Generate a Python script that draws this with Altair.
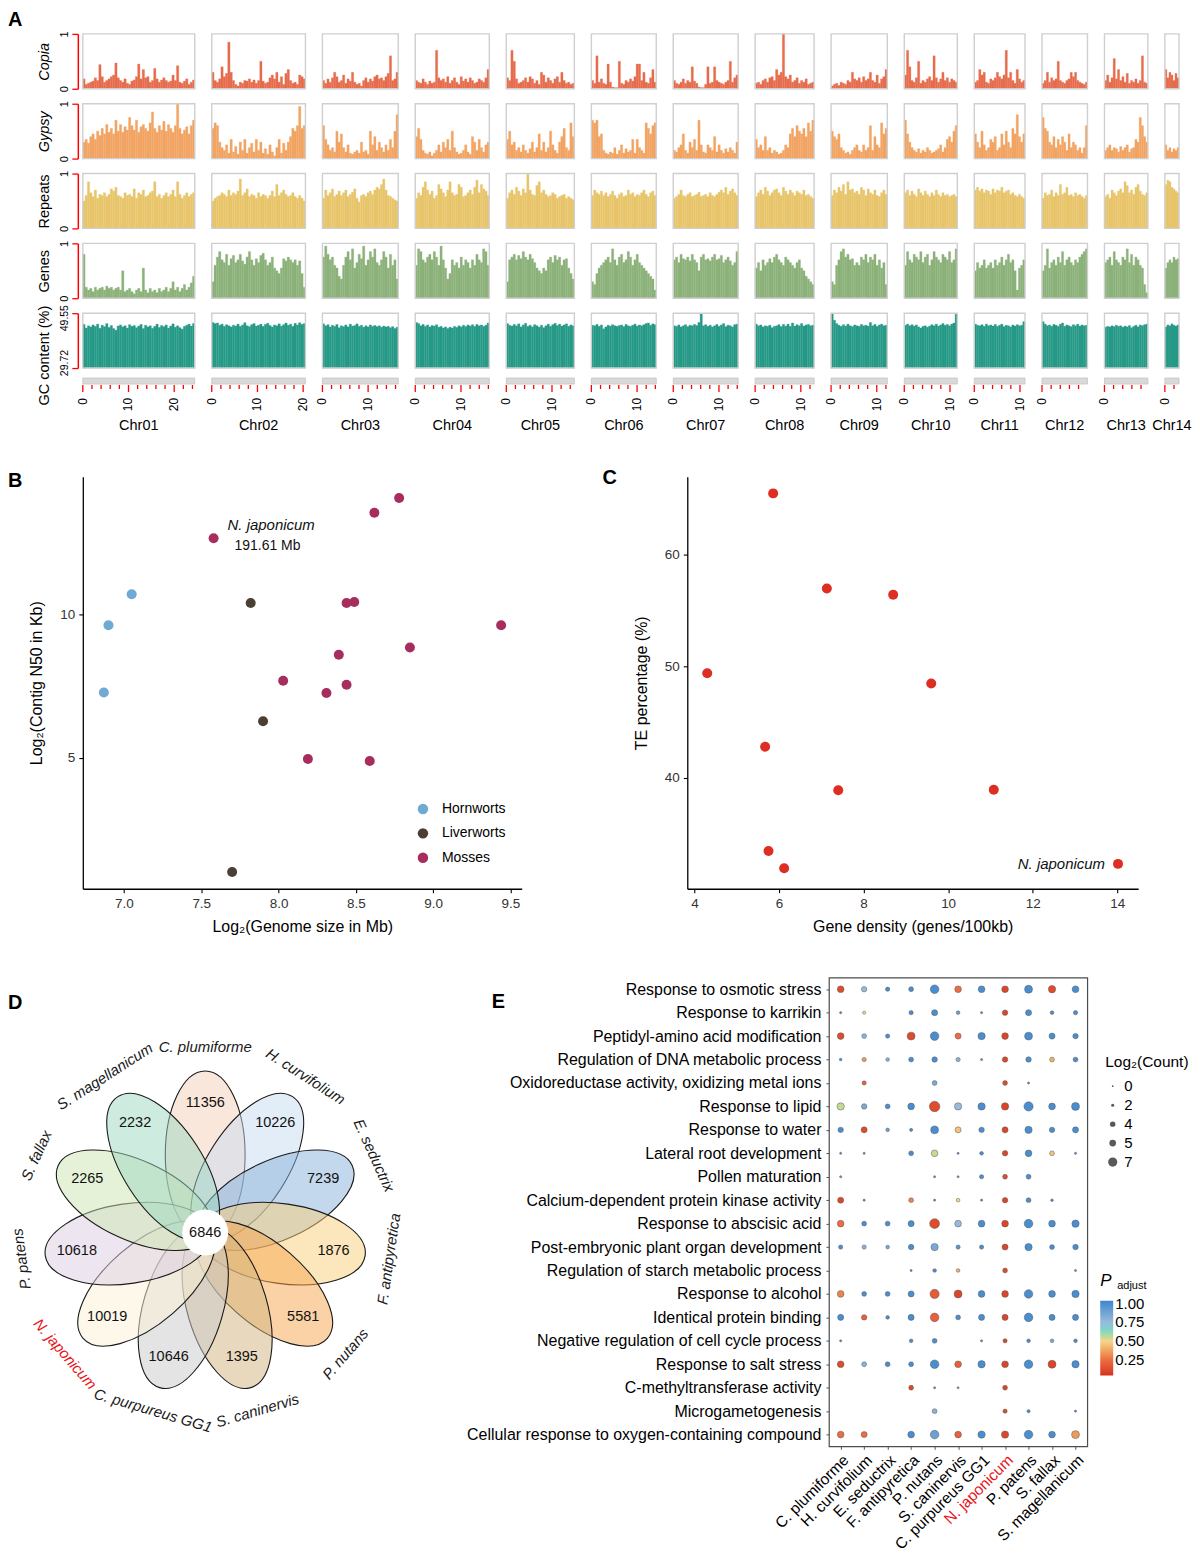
import math
import altair as alt
import pandas as pd

FONT = "Liberation Sans"

# ======================= Panel A data =======================
CHROMS = ["Chr01", "Chr02", "Chr03", "Chr04", "Chr05", "Chr06", "Chr07",
          "Chr08", "Chr09", "Chr10", "Chr11", "Chr12", "Chr13", "Chr14"]
CHR_LEN = [24.5, 20.5, 16.6, 16.2, 14.9, 14.2, 14.2, 12.9, 12.3, 11.6, 11.1, 9.95, 9.5, 3.1]  # Mb

# track values per window, % of panel height (0-100)
COPIA = [
    [18,8,10,12,14,20,15,44,22,12,15,18,22,25,47,20,15,12,18,10,8,14,16,22,45,18,35,20,22,12,15,37,18,12,16,20,15,12,14,25,15,42,12,10,14,18,8,12,16],
    [30,15,12,18,40,22,28,85,30,15,8,5,12,10,15,14,18,12,16,10,15,50,14,10,12,20,25,18,30,12,22,8,28,35,15,10,12,8,25,22,18],
    [15,10,18,12,20,30,22,12,15,25,10,18,14,30,12,8,10,5,15,20,12,18,14,22,25,18,20,15,22,28,60,15,18,30],
    [15,12,10,18,12,8,14,10,12,70,20,15,18,12,22,10,15,20,12,8,22,14,18,12,20,15,10,12,18,15,12,20,35],
    [20,15,70,50,18,10,12,15,20,12,22,18,10,15,8,30,25,12,20,15,10,18,22,12,30,15,10,12,8,10],
    [15,10,60,12,18,10,8,45,12,3,2,2,50,10,8,15,12,18,14,22,45,45,15,30,12,10,20,35,12],
    [15,10,8,12,18,10,15,12,40,14,10,3,2,2,8,40,10,12,40,15,12,10,8,12,15,50,12,20,25],
    [10,12,8,15,18,12,20,22,15,35,25,30,100,22,18,25,12,15,20,10,15,12,18,8,10,12],
    [5,8,10,6,12,10,8,15,12,30,18,15,20,12,22,15,18,30,15,12,25,10,18,22,35],
    [25,70,40,15,12,20,50,10,15,12,18,22,15,60,20,12,18,30,15,20,12,18,15,12],
    [12,15,35,25,30,12,10,18,15,20,30,22,18,25,70,20,30,15,10,35,18,12,15],
    [10,15,30,12,20,15,18,50,15,12,10,15,18,30,22,30,15,12,10,8,12],
    [15,25,12,20,55,18,35,15,22,12,28,10,15,12,18,10,15,60,12,10],
    [35,20,30,25,15,28,20],
]
GYPSY = [
    [30,35,28,40,45,35,50,42,55,45,62,48,55,45,70,50,62,48,58,52,75,60,52,70,48,58,62,55,50,65,85,55,48,60,52,68,50,62,55,48,60,100,55,45,52,58,45,60,70],
    [55,65,60,30,20,15,25,10,35,12,22,8,30,15,35,10,20,28,12,35,15,30,10,18,8,25,12,5,20,35,10,28,15,30,40,55,50,60,95,55,60],
    [60,35,25,15,20,12,50,30,45,20,12,25,10,8,12,15,10,30,12,15,8,50,25,40,15,30,20,12,25,15,35,20,50,80],
    [40,55,35,15,10,8,12,5,10,15,25,12,30,20,35,15,50,20,12,8,10,15,25,12,8,40,30,15,35,20,12,25,30],
    [35,50,25,30,15,20,12,25,15,10,18,30,12,20,45,15,30,12,20,50,25,15,10,30,40,55,20,15,65,40],
    [70,65,70,40,45,15,10,8,12,10,20,8,15,25,10,18,12,15,35,10,35,20,15,10,65,55,45,60,65],
    [15,12,20,25,45,15,10,30,20,35,15,70,25,12,10,25,20,15,40,12,25,15,10,18,12,20,15,10,30],
    [35,20,25,15,40,15,20,10,15,12,8,10,15,25,20,45,55,40,60,50,45,55,40,65,50,70],
    [50,40,35,45,20,15,10,12,8,15,20,25,15,12,25,15,20,60,15,40,25,20,65,45,55],
    [70,45,30,20,15,12,18,10,15,12,20,15,10,12,15,18,25,12,20,35,40,30,50,60],
    [45,30,20,50,25,15,20,35,30,40,15,20,45,25,50,30,20,55,45,80,40,30,45],
    [75,55,50,30,25,40,20,35,25,40,30,15,45,20,30,25,15,20,10,20,60],
    [15,20,25,15,20,18,12,22,15,20,25,12,18,20,35,30,75,60,40,30],
    [25,15,20,12,18,15,20],
]
REPEATS = [
    [50,60,85,65,58,70,55,62,60,65,58,62,72,68,75,60,58,55,65,60,62,58,72,55,65,62,70,58,60,65,68,85,58,62,55,60,65,58,62,70,58,85,62,55,60,65,58,62,65],
    [50,55,58,60,65,62,58,70,60,65,62,68,90,60,65,72,58,62,60,55,65,58,62,60,55,60,68,58,80,60,65,70,62,58,60,65,58,55,60,55,50],
    [55,70,60,65,72,58,62,68,60,65,70,58,62,66,72,55,48,60,62,58,65,68,62,70,75,72,80,90,70,60,58,55,52,50],
    [55,65,60,75,85,70,62,68,55,60,80,72,65,58,70,85,65,60,62,80,75,58,60,65,70,62,75,88,65,80,72,68,60],
    [55,65,70,62,75,68,60,72,65,100,70,62,60,78,85,65,70,62,58,60,65,62,55,58,60,62,55,58,55,52],
    [60,70,65,62,68,60,65,58,62,68,60,55,62,65,58,60,70,62,65,58,62,60,65,70,62,58,65,68,60],
    [55,58,62,70,60,58,62,65,58,60,62,66,58,60,62,58,65,60,58,62,66,70,65,75,62,68,72,65,60],
    [58,65,70,62,75,68,60,65,70,72,65,60,75,68,62,70,65,60,68,65,62,70,60,62,58,55],
    [60,70,65,75,68,80,62,85,70,72,65,68,62,75,70,60,72,65,62,70,60,58,65,70,62],
    [65,70,60,68,62,58,72,65,60,68,62,58,65,60,70,62,58,65,60,62,58,60,62,58],
    [70,75,68,72,65,70,68,62,72,65,70,68,75,65,68,70,62,65,60,58,62,58,55],
    [55,65,60,62,70,58,65,60,80,62,65,75,60,62,58,65,60,62,58,55,60],
    [58,62,55,70,65,60,68,72,65,85,78,65,70,62,75,80,68,62,60,65],
    [80,88,85,75,72,68,65],
]
GENES = [
    [80,20,15,18,12,20,15,18,20,15,22,18,20,15,18,20,15,50,12,15,18,12,8,15,18,12,55,15,10,18,12,15,10,18,12,15,20,12,18,30,15,20,12,18,25,15,20,28,40],
    [30,60,75,85,70,65,80,60,72,78,65,70,80,68,62,75,85,70,60,72,65,78,82,70,60,65,75,55,50,45,55,72,68,75,70,65,70,60,68,45,20],
    [75,95,80,70,75,60,55,40,35,60,75,85,70,90,55,65,80,72,95,60,70,85,75,90,65,60,70,85,75,55,80,60,70,35],
    [60,90,85,70,65,75,80,70,85,75,60,95,70,55,35,45,70,60,65,55,75,60,70,65,55,70,60,80,70,65,90,85,60],
    [30,70,75,80,70,78,72,85,75,70,80,72,65,55,50,45,55,50,70,75,65,78,70,75,60,70,72,55,45,35],
    [30,25,45,55,60,65,70,75,65,90,70,60,75,80,65,70,85,75,60,70,80,65,60,55,50,45,40,35,15],
    [70,75,65,80,72,70,75,68,80,70,65,50,75,80,70,72,68,75,80,70,72,78,65,70,75,68,60,65,85],
    [55,65,50,70,60,65,72,65,75,80,70,65,60,75,70,65,60,55,65,70,55,50,40,35,30,25],
    [30,25,60,70,85,90,75,80,70,72,60,65,60,75,70,80,65,75,70,80,60,70,55,65,25],
    [60,85,70,65,80,75,70,85,65,75,80,60,70,85,75,70,65,80,75,70,85,65,70,90],
    [50,65,55,60,70,55,60,65,55,70,60,65,75,60,70,80,65,70,50,15,55,60,70],
    [50,60,90,55,65,70,60,75,65,85,60,70,75,65,60,70,65,75,80,85,90],
    [65,70,75,60,85,70,65,60,75,70,90,65,80,60,75,70,60,55,25,10],
    [55,65,70,65,75,70,72],
]
GC_CONTENT = [
    [45.5,44.2,45.0,44.6,45.3,44.8,45.6,44.1,45.2,44.7,45.8,44.4,45.1,44.0,43.4,44.9,45.3,44.6,45.0,44.2,45.4,44.8,45.1,44.3,44.9,45.5,44.0,45.2,44.6,45.0,44.1,44.8,45.6,44.4,45.1,44.7,45.3,44.2,44.9,45.7,44.5,45.0,44.3,43.8,44.8,45.2,45.6,44.9,45.8],
    [46.2,45.8,46.0,45.2,45.6,44.8,45.4,45.0,44.6,45.2,44.9,45.6,44.8,45.3,46.1,45.0,44.7,45.4,45.8,44.9,45.2,45.6,44.8,45.5,45.9,45.1,44.6,45.3,45.0,45.7,44.9,45.4,46.0,45.2,45.6,44.8,45.9,45.3,46.1,45.5,45.8],
    [45.7,45.0,45.4,44.6,45.2,44.8,45.5,44.3,45.0,44.7,45.3,44.6,45.6,44.9,45.1,45.7,44.8,45.2,44.5,45.0,44.6,45.3,44.8,45.1,44.7,45.0,44.5,44.9,44.6,44.8,44.3,44.7,44.0,44.5],
    [46.2,45.8,45.0,45.5,44.8,45.3,44.6,45.1,44.9,45.4,44.5,44.8,44.2,44.6,44.0,44.5,44.2,44.8,44.4,45.0,44.6,45.2,44.7,45.3,44.9,45.4,44.8,45.5,45.0,45.3,44.8,45.2,46.0],
    [45.8,45.2,44.9,45.5,45.0,45.7,44.6,45.3,45.9,44.8,45.2,44.6,45.4,45.0,44.5,45.2,44.3,45.0,45.6,44.8,45.4,45.9,45.1,45.6,44.9,45.3,45.7,44.8,45.3,45.0],
    [45.2,45.0,45.5,44.8,45.3,43.9,44.6,45.2,44.9,45.4,45.0,44.8,45.1,45.3,44.7,45.5,45.0,44.8,45.2,45.6,44.9,45.3,45.0,45.4,45.8,46.0,45.2,45.7,45.4],
    [45.0,44.8,45.3,44.6,45.0,45.4,44.7,45.2,45.0,45.5,45.1,46.2,49.3,45.0,45.4,44.8,45.2,44.6,45.0,45.5,44.8,45.3,45.8,44.7,45.2,45.0,44.6,45.4,45.6],
    [45.6,45.0,45.3,44.6,45.0,44.8,45.2,44.3,44.8,45.0,45.4,44.7,45.5,44.9,45.6,44.8,46.0,44.9,45.4,45.0,45.8,44.9,45.3,45.5,45.0,45.2],
    [49.5,47.0,45.8,45.2,44.8,45.4,44.9,45.6,45.0,44.7,45.3,45.0,44.8,45.5,45.0,45.2,44.9,46.2,45.0,45.5,44.8,45.3,45.6,45.0,45.2],
    [45.2,45.6,45.0,45.4,44.9,45.3,44.6,44.2,44.8,45.0,44.5,44.9,45.4,45.0,45.6,44.9,45.3,45.8,45.2,45.5,45.0,45.6,46.0,49.2],
    [45.6,45.2,45.0,45.4,44.8,45.6,45.0,45.3,44.9,45.5,44.8,45.2,45.6,44.7,45.2,45.0,44.6,45.3,44.9,45.4,45.0,45.2,46.5],
    [46.5,45.6,45.0,45.3,44.8,45.5,45.2,44.8,45.6,46.0,44.8,45.3,45.0,44.7,45.4,45.0,45.6,44.9,45.3,45.0,45.2],
    [44.5,44.8,44.6,45.0,44.7,45.2,44.8,45.0,44.5,44.9,44.6,45.1,44.3,44.8,45.2,44.6,45.3,45.0,45.4,45.6],
    [44.6,45.3,45.0,45.7,45.2,44.9,45.3],
]
GC_RANGE = [29.72, 49.55]

# ======================= Panel B data =======================
B_GROUPS = ["Hornworts", "Liverworts", "Mosses"]
B_COLORS = ["#70AAD4", "#4B3E32", "#A82D5F"]
B_GROUP = ["Hornworts"] * 3 + ["Liverworts"] * 3 + ["Mosses"] * 13
B_LOG2_SIZE = [7.05, 6.90, 6.87, 7.82, 7.90, 7.70, 7.58, 8.78, 8.62, 8.44, 8.49, 9.44, 8.85, 8.39, 8.03, 8.44, 8.31, 8.19, 8.59]
B_LOG2_N50 = [10.71, 9.63, 7.28, 10.41, 6.27, 1.00, 12.67, 14.08, 13.56, 10.41, 10.44, 9.63, 8.85, 8.60, 7.69, 7.55, 7.26, 4.95, 4.88]
B_LABEL = [""] * 6 + ["N. japonicum"] + [""] * 12
B_NJ_SIZE = "191.61 Mb"

# ======================= Panel C data =======================
C_GENE_DENSITY = [5.86, 7.13, 8.70, 4.30, 9.60, 5.67, 7.40, 11.08, 5.75, 6.12, 14.02]
C_TE_PCT = [65.52, 56.99, 56.42, 49.37, 48.45, 42.78, 38.87, 38.93, 33.43, 31.88, 32.27]
C_LABEL = [""] * 10 + ["N. japonicum"]

# ======================= Panel D data =======================
D_SPECIES = ["C. plumiforme", "H. curvifolium", "E. seductrix", "F. antipyretica", "P. nutans",
             "S. caninervis", "C. purpureus GG1", "N. japonicum", "P. patens", "S. fallax", "S. magellanicum"]
D_UNIQUE = [11356, 10226, 7239, 1876, 5581, 1395, 10646, 10019, 10618, 2265, 2232]
D_CORE = 6846
D_COLORS = ["#F5CFB9", "#C7DBEF", "#87B1D9", "#F9CD79", "#F5A54D", "#D1B37D",
            "#C9C9C9", "#FBF1D5", "#DBCDE1", "#CDE5B1", "#9BD7BF"]

# ======================= Panel E data =======================
E_TERMS = ["Response to osmotic stress", "Response to karrikin", "Peptidyl-amino acid modification",
           "Regulation of DNA metabolic process", "Oxidoreductase activity, oxidizing metal ions",
           "Response to lipid", "Response to water", "Lateral root development", "Pollen maturation",
           "Calcium-dependent protein kinase activity", "Response to abscisic acid",
           "Post-embryonic plant organ development", "Regulation of starch metabolic process",
           "Response to alcohol", "Identical protein binding", "Negative regulation of cell cycle process",
           "Response to salt stress", "C-methyltransferase activity", "Microgametogenesis",
           "Cellular response to oxygen-containing compound"]
E_SPECIES = ["C. plumiforme", "H. curvifolium", "E. seductrix", "F. antipyretica", "P. nutans",
             "S. caninervis", "C. purpureus GG1", "N. japonicum", "P. patens", "S. fallax", "S. magellanicum"]
N = None
E_LOG2COUNT = [
    [5, 4, 3, 3.5, 6.5, 5, 5, 5, 6, 5.5, 5],
    [1, 2, N, 3, 4.5, 2.5, 1, 4, 4.5, 2.5, 3],
    [5, 3.5, 3, 6, 6.5, 4.5, 5.5, 5, 6, 4.5, 4],
    [1.5, 3, 2.5, 3.5, 4, 3, 1, 4, 4, 3.5, 3.5],
    [N, 3, N, N, 3.5, N, N, 3.5, 1, N, N],
    [5.5, 4, 3.5, 5, 8, 5.5, 5.5, 5.5, 7, 5, 6],
    [4, 4.5, 2.5, 2, 6, 4.5, 4, 4.5, 5.5, 4, 4.5],
    [1, 1, N, 3.5, 5, 1, 2.5, 4, 5, 3.5, 1],
    [1, N, N, N, 1, 1, 3, 3.5, 3.5, N, N],
    [4.5, 1, N, 3.5, 1, 2.5, 1, 4, 3.5, 1.5, N],
    [5, 3.5, 3.5, 4.5, 7.5, 5, 5, 5, 6.5, 5, 5.5],
    [3, 3, 2.5, 4, 5.5, 3, 3, 4.5, 5.5, 3.5, 4],
    [N, N, N, 1, 2.5, 2.5, N, 3.5, N, N, 1],
    [5, 3.5, 3.5, 4.5, 7, 6, 5, 5, 6.5, 5, 5.5],
    [4.5, 4, 2.5, 4.5, 6.5, 3.5, 4.5, 4.5, 6.5, 4.5, 4.5],
    [1, N, N, 2.5, 3.5, N, 1, 3, 2.5, 2.5, 2.5],
    [5, 3.5, 3.5, 3.5, 6.5, 5, 5.5, 5, 6.5, 6, 5.5],
    [N, N, N, 3.5, 1, 1, N, 3.5, N, N, N],
    [N, N, N, N, 3.5, N, N, 3, 2, N, 1],
    [5, 4.5, N, 5, 6.5, 5, 5.5, 5.5, 6.5, 5, 6],
]
E_PADJ = [
    [0.12, 0.75, 1.0, 1.0, 1.0, 0.25, 1.0, 0.1, 1.0, 0.12, 1.0],
    [1.0, 0.5, N, 1.0, 1.0, 0.9, 1.0, 0.1, 1.0, 1.0, 1.0],
    [0.12, 0.8, 1.0, 0.12, 1.0, 0.25, 1.0, 0.1, 1.0, 1.0, 1.0],
    [1.0, 0.35, 0.8, 1.0, 1.0, 0.8, 1.0, 0.1, 1.0, 0.4, 1.0],
    [N, 0.2, N, N, 0.85, N, N, 0.12, 1.0, N, N],
    [0.55, 0.85, 1.0, 1.0, 0.12, 0.75, 1.0, 0.1, 1.0, 1.0, 1.0],
    [1.0, 0.12, 0.9, 1.0, 1.0, 0.45, 1.0, 0.1, 1.0, 1.0, 1.0],
    [1.0, 1.0, N, 1.0, 0.55, 1.0, 1.0, 0.1, 1.0, 0.45, 1.0],
    [1.0, N, N, N, 1.0, 0.95, 1.0, 0.12, 1.0, N, N],
    [0.1, 1.0, N, 0.3, 1.0, 0.5, 1.0, 0.1, 1.0, 1.0, N],
    [0.25, 1.0, 1.0, 1.0, 0.12, 0.75, 1.0, 0.1, 1.0, 1.0, 1.0],
    [1.0, 0.8, 0.85, 1.0, 0.85, 0.95, 1.0, 0.1, 1.0, 1.0, 1.0],
    [N, N, N, 1.0, 1.0, 0.4, N, 0.12, N, N, 1.0],
    [0.3, 1.0, 1.0, 1.0, 0.18, 0.1, 1.0, 0.1, 1.0, 1.0, 1.0],
    [1.0, 0.2, 1.0, 1.0, 0.2, 1.0, 1.0, 0.1, 1.0, 1.0, 1.0],
    [1.0, N, N, 1.0, 1.0, N, 1.0, 0.1, 1.0, 0.85, 1.0],
    [0.12, 0.8, 1.0, 1.0, 1.0, 0.2, 1.0, 0.1, 1.0, 0.1, 1.0],
    [N, N, N, 0.1, 1.0, 0.9, N, 0.1, N, N, N],
    [N, N, N, N, 0.8, N, N, 0.12, 1.0, N, 1.0],
    [0.25, 0.25, N, 1.0, 0.9, 0.2, 1.0, 0.1, 1.0, 1.0, 0.35],
]

# ======================= helpers =======================
def letter(txt, x, y):
    return alt.Chart(pd.DataFrame({"t": [txt]})).mark_text(
        align="left", baseline="top", fontSize=20, fontWeight="bold", color="black"
    ).encode(text="t:N", x=alt.value(x), y=alt.value(y))


def indep(ch):
    return ch.resolve_scale(color="independent", size="independent").resolve_legend(
        color="independent", size="independent")

# ======================= Panel A =======================
GAP_MB = 3.72
W_A = 1099
H_TRACK = 55

offsets = []
acc = 0.0
for L in CHR_LEN:
    offsets.append(acc)
    acc += L + GAP_MB
TOTAL = acc - GAP_MB

frames = pd.DataFrame({"chrom": CHROMS, "start": offsets,
                       "end": [o + L for o, L in zip(offsets, CHR_LEN)]})
frames["mid"] = (frames["start"] + frames["end"]) / 2

XS = alt.Scale(domain=[0, TOTAL], nice=False, zero=False)


def bins_df(lists, div):
    rows = []
    for ci, vals in enumerate(lists):
        w = CHR_LEN[ci] / len(vals)
        for i, v in enumerate(vals):
            rows.append({"start": offsets[ci] + i * w, "end": offsets[ci] + (i + 1) * w, "value": v / div})
    return pd.DataFrame(rows)


def track(title, lists, div, color, lo, hi, italic, fmt, first=False, title_y=None, own_labels=False):
    df = bins_df(lists, div)
    mid = (lo + hi) / 2
    extra = {} if title_y is None else {"titleY": title_y}
    axis = alt.Axis(title=title, values=[lo, mid, hi],
                    labelExpr=f"abs(datum.value - {mid}) < 0.001 ? '' : format(datum.value, '{fmt}')",
                    domainColor="#FF0000", tickColor="#FF0000", domainWidth=1.5, tickWidth=1.3,
                    tickSize=6, labelAngle=270, labelFontSize=11, labelColor="black", labelPadding=2,
                    labelOpacity=0 if own_labels else 1,
                    offset=5, grid=False, titleFontSize=14.5, titleFontWeight="normal",
                    titleFontStyle="italic" if italic else "normal", titleColor="black", titlePadding=7,
                    **extra)
    ys = alt.Scale(domain=[lo, hi], nice=False, zero=False, clamp=True)
    bars = alt.Chart(df).mark_rect(color=color, stroke=color, strokeWidth=0.3).encode(
        x=alt.X("start:Q", scale=XS, axis=None), x2="end:Q",
        y=alt.Y("value:Q", scale=ys, axis=axis), y2=alt.datum(lo))
    frame = alt.Chart(frames).mark_rect(fill="transparent", stroke="#CFCFCF", strokeWidth=1.4).encode(
        x=alt.X("start:Q", scale=XS, axis=None), x2="end:Q",
        y=alt.datum(hi), y2=alt.datum(lo))
    layers = [bars, frame]
    if own_labels:
        # end labels pulled slightly inward, as in the original figure
        top = alt.Chart(pd.DataFrame({"t": [format(hi, fmt)]})).mark_text(
            angle=270, fontSize=10.5, baseline="bottom", align="center", dx=-5, color="black").encode(
            text="t:N", x=alt.value(-13), y=alt.value(0))
        bot = alt.Chart(pd.DataFrame({"t": [format(lo, fmt)]})).mark_text(
            angle=270, fontSize=10.5, baseline="bottom", align="center", dx=5, color="black").encode(
            text="t:N", x=alt.value(-13), y=alt.value(H_TRACK))
        layers += [top, bot]
    if first:
        layers.append(letter("A", -75, -24))
    return alt.layer(*layers).properties(width=W_A, height=H_TRACK)


tracks = [
    track("Copia", COPIA, 100, "#E66C4D", 0, 1, True, "d", first=True),
    track("Gypsy", GYPSY, 100, "#F2A463", 0, 1, True, "d"),
    track("Repeats", REPEATS, 100, "#E8C56B", 0, 1, False, "d"),
    track("Genes", GENES, 100, "#8CB27A", 0, 1, False, "d"),
    track("GC content (%)", GC_CONTENT, 1, "#269A87", GC_RANGE[0], GC_RANGE[1], False, ".2f",
          title_y=42, own_labels=True),
]

tick_rows = []
for ci, L in enumerate(CHR_LEN):
    t = 0
    while t <= L + 1e-9:
        tick_rows.append({"pos": offsets[ci] + t, "major": t % 10 == 0, "lab": str(t)})
        t += 2
ticks = pd.DataFrame(tick_rows)

# ideogram row (its view starts 15 px under the GC row; marks are drawn 5 px higher)
ideo_bar = alt.Chart(frames).mark_rect(color="#D9D9D9", stroke="#C4C4C4", strokeWidth=0.8).encode(
    x=alt.X("start:Q", scale=XS, axis=None), x2="end:Q", y=alt.value(-5), y2=alt.value(1))
t_major = alt.Chart(ticks).transform_filter("datum.major").mark_rule(color="#FF0000", strokeWidth=1.3).encode(
    x=alt.X("pos:Q", scale=XS, axis=None), y=alt.value(2), y2=alt.value(9))
t_minor = alt.Chart(ticks).transform_filter("!datum.major").mark_rule(color="#FF0000", strokeWidth=1.3).encode(
    x=alt.X("pos:Q", scale=XS, axis=None), y=alt.value(2), y2=alt.value(6))
t_lab = alt.Chart(ticks).transform_filter("datum.major").mark_text(
    angle=270, align="right", baseline="middle", fontSize=12, color="black").encode(
    x=alt.X("pos:Q", scale=XS, axis=None), y=alt.value(15), text="lab:N")
chr_lab = alt.Chart(frames).mark_text(fontSize=14.5, baseline="middle", color="black").encode(
    x=alt.X("mid:Q", scale=XS, axis=None), y=alt.value(43), text="chrom:N")
ideo = alt.layer(ideo_bar, t_major, t_minor, t_lab, chr_lab).properties(width=W_A, height=1)

panelA = alt.vconcat(*tracks, ideo, spacing=15, bounds="flush")

# ======================= Panel B =======================
AX = dict(domainColor="black", domainWidth=1.3, tickColor="black", tickWidth=1.1, tickSize=4,
          labelFontSize=13.5, labelColor="#333333", titleFontSize=16, titleFontWeight="normal",
          titleColor="black", grid=False, labelPadding=4)

dfB = pd.DataFrame({"group": B_GROUP, "gsize": B_LOG2_SIZE, "n50": B_LOG2_N50, "label": B_LABEL})
BX = alt.Scale(domain=[6.734, 9.573], nice=False, zero=False)
BY = alt.Scale(domain=[0.418, 14.82], nice=False, zero=False)
bx = alt.X("gsize:Q", scale=BX, axis=alt.Axis(values=[7.0, 7.5, 8.0, 8.5, 9.0, 9.5], format=".1f",
                                              title="Log₂(Genome size in Mb)", titlePadding=8, **AX))
by = alt.Y("n50:Q", scale=BY, axis=alt.Axis(values=[5, 10], title="Log₂(Contig N50 in Kb)",
                                            titlePadding=15, **AX))
b_pts = alt.Chart(dfB).mark_circle(size=100, opacity=1).encode(
    x=bx, y=by,
    color=alt.Color("group:N", scale=alt.Scale(domain=B_GROUPS, range=B_COLORS),
                    legend=alt.Legend(title=None, orient="none", legendX=334, legendY=326,
                                      labelFontSize=14, labelColor="black", symbolSize=110,
                                      symbolType="circle", rowPadding=10.5, labelOffset=12, padding=0,
                                      symbolStrokeWidth=0)))
dfB_nj = dfB[dfB["label"] != ""]
b_ann1 = alt.Chart(dfB_nj).mark_text(align="left", baseline="middle", dx=14, dy=-13, fontSize=15,
                                     fontStyle="italic", color="#111111").encode(
    x=alt.X("gsize:Q", scale=BX), y=alt.Y("n50:Q", scale=BY), text="label:N")
b_ann2 = alt.Chart(dfB_nj).mark_text(align="left", baseline="middle", dx=21, dy=8, fontSize=14,
                                     color="#111111").encode(
    x=alt.X("gsize:Q", scale=BX), y=alt.Y("n50:Q", scale=BY), text=alt.value(B_NJ_SIZE))
panelB = alt.layer(b_pts, b_ann1, b_ann2, letter("B", -75, -6)).properties(width=440, height=413)

# ======================= Panel C =======================
dfC = pd.DataFrame({"gd": C_GENE_DENSITY, "te": C_TE_PCT, "label": C_LABEL})
CX = alt.Scale(domain=[3.828, 14.496], nice=False, zero=False)
CY = alt.Scale(domain=[30.04, 67.01], nice=False, zero=False)
cx = alt.X("gd:Q", scale=CX, axis=alt.Axis(values=[4, 6, 8, 10, 12, 14], title="Gene density (genes/100kb)",
                                           titlePadding=8, **AX))
cy = alt.Y("te:Q", scale=CY, axis=alt.Axis(values=[40, 50, 60], title="TE percentage (%)",
                                           titlePadding=15, **AX))
c_pts = alt.Chart(dfC).mark_circle(size=100, opacity=1, color="#DE2D22").encode(x=cx, y=cy)
c_ann = alt.Chart(dfC[dfC["label"] != ""]).mark_text(align="right", baseline="middle", dx=-13, fontSize=15,
                                                     fontStyle="italic", color="#111111").encode(
    x=alt.X("gd:Q", scale=CX), y=alt.Y("te:Q", scale=CY), text="label:N")
panelC = alt.layer(c_pts, c_ann, letter("C", -85, -9)).properties(width=452, height=413)

midrow = indep(alt.hconcat(panelB, panelC, spacing=166, bounds="flush"))

# ======================= Panel D =======================
W_D, H_D = 330, 470
CEN_X, CEN_Y = 122.7, 255.7          # flower centre inside the view (px from left / top)
C_DIST, A_SEMI, B_SEMI = 78, 84, 40  # petal geometry in px
R_NUM, R_LAB = 130, 186
k = B_SEMI / A_SEMI
kap = 0.5523
ELLIPSE = (f"M1,0 C1,{kap*k:.4f} {kap:.4f},{k:.4f} 0,{k:.4f} "
           f"C{-kap:.4f},{k:.4f} -1,{kap*k:.4f} -1,0 "
           f"C-1,{-kap*k:.4f} {-kap:.4f},{-k:.4f} 0,{-k:.4f} "
           f"C{kap:.4f},{-k:.4f} 1,{-kap*k:.4f} 1,0 Z")

nD = len(D_SPECIES)
pet_rows, num_rows, lab_rows = [], [], []
for i, sp in enumerate(D_SPECIES):
    th = 90 - i * 360 / nD
    r = math.radians(th)
    pet_rows.append({"px": C_DIST * math.cos(r), "py": C_DIST * math.sin(r),
                     "rot": (-th) % 360, "col": D_COLORS[i]})
    num_rows.append({"px": R_NUM * math.cos(r), "py": R_NUM * math.sin(r), "txt": str(D_UNIQUE[i])})
    ta = 90 - th
    while ta > 180:
        ta -= 360
    while ta <= -180:
        ta += 360
    if ta > 90:
        ta -= 180
    elif ta < -100:
        ta += 180
    lab_rows.append({"px": R_LAB * math.cos(r), "py": R_LAB * math.sin(r), "txt": sp,
                     "ta": ta % 360, "tc": "#E8141B" if sp == "N. japonicum" else "#1A1A1A"})
pet_df = pd.DataFrame(pet_rows)
num_df = pd.DataFrame(num_rows)
lab_df = pd.DataFrame(lab_rows)
core_df = pd.DataFrame({"px": [0.0], "py": [0.0], "txt": [str(D_CORE)]})

DX = alt.Scale(domain=[-CEN_X, W_D - CEN_X], nice=False, zero=False)
DY = alt.Scale(domain=[CEN_Y - H_D, CEN_Y], nice=False, zero=False)
dxe = alt.X("px:Q", scale=DX, axis=None)
dye = alt.Y("py:Q", scale=DY, axis=None)

d_pet = alt.Chart(pet_df).mark_point(shape=ELLIPSE, size=4 * A_SEMI * A_SEMI, filled=True, opacity=1,
                                     fillOpacity=0.5, stroke="#1A1A1A", strokeWidth=1.1).encode(
    x=dxe, y=dye, angle=alt.Angle("rot:Q", scale=None), fill=alt.Fill("col:N", scale=None, legend=None))
d_core = alt.Chart(core_df).mark_circle(size=2124, color="white", opacity=1).encode(x=dxe, y=dye)
d_coretxt = alt.Chart(core_df).mark_text(fontSize=14.5, color="#111111").encode(x=dxe, y=dye, text="txt:N")
d_num = alt.Chart(num_df).mark_text(fontSize=14.5, color="#111111").encode(x=dxe, y=dye, text="txt:N")
d_lab = alt.Chart(lab_df).mark_text(fontSize=15, fontStyle="italic", baseline="middle").encode(
    x=dxe, y=dye, text="txt:N", angle=alt.Angle("ta:Q", scale=None), color=alt.Color("tc:N", scale=None))
panelD = alt.layer(d_pet, d_core, d_coretxt, d_num, d_lab, letter("D", -75, 16)).properties(width=W_D, height=H_D)

# ======================= Panel E =======================
e_rows = []
for ti, term in enumerate(E_TERMS):
    for si, sp in enumerate(E_SPECIES):
        c = E_LOG2COUNT[ti][si]
        p = E_PADJ[ti][si]
        if c is not None:
            e_rows.append({"term": term, "sp": sp, "cnt": c, "padj": p})
dfE = pd.DataFrame(e_rows)

e_pts = alt.Chart(dfE).mark_circle(stroke="#5A5A5A", strokeWidth=0.5, opacity=1).encode(
    x=alt.X("sp:N", scale=alt.Scale(type="point", domain=E_SPECIES, padding=0.5),
            axis=alt.Axis(title=None, labelAngle=315, labelFontSize=15.5, labelLimit=400, domain=False,
                          tickColor="#555555", tickSize=3, labelPadding=3,
                          labelColor={"condition": {"test": "datum.value == 'N. japonicum'", "value": "#E8141B"},
                                      "value": "black"})),
    y=alt.Y("term:N", scale=alt.Scale(type="point", domain=E_TERMS, padding=0.5),
            axis=alt.Axis(title=None, labelFontSize=16, labelColor="black", labelLimit=600, domain=False,
                          tickColor="#555555", tickSize=3, labelPadding=5)),
    size=alt.Size("cnt:Q", scale=alt.Scale(type="pow", exponent=2, domain=[0, 8], range=[3, 110]),
                  legend=alt.Legend(title="Log₂(Count)", values=[0, 2, 4, 5, 7], orient="none",
                                    legendX=277, legendY=78, titleFontSize=15.5, titleFontWeight="normal",
                                    titleColor="black", labelFontSize=15, labelColor="black",
                                    symbolFillColor="#595959", symbolStrokeColor="#595959",
                                    symbolStrokeWidth=0, symbolOpacity=1, rowPadding=3, titlePadding=8,
                                    padding=0)),
    color=alt.Color("padj:Q",
                    scale=alt.Scale(domain=[0.04, 0.25, 0.5, 0.75, 1.04],
                                    range=["#D7301F", "#EC6D45", "#F6D58E", "#99BBD9", "#3A87CF"]),
                    legend=alt.Legend(title="P", titleFontStyle="italic", titleFontSize=17,
                                      titleFontWeight="normal", titleColor="black",
                                      values=[0.25, 0.5, 0.75, 1.0], format=".2f", gradientLength=75,
                                      gradientThickness=13, labelFontSize=15, labelColor="black",
                                      orient="none", legendX=272, legendY=296, padding=0, titlePadding=11,
                                      gradientStrokeWidth=0)))
e_sub = alt.Chart(pd.DataFrame({"t": ["adjust"]})).mark_text(
    align="left", baseline="middle", fontSize=11, color="black").encode(
    text="t:N", x=alt.value(289), y=alt.value(309))
panelE = alt.layer(e_pts, e_sub, letter("E", -338, 15)).properties(
    width=259, height=470, view=alt.ViewBackground(stroke="#4D4D4D", strokeWidth=1.2))

bottomrow = indep(alt.hconcat(panelD, panelE, spacing=418, bounds="flush"))

chart = indep(alt.vconcat(
    indep(alt.vconcat(panelA, midrow, spacing=35)),
    bottomrow, spacing=42
)).properties(padding=0).configure(font=FONT).configure_view(strokeWidth=0)

chart.save("out.html", embed_options={"renderer": "svg", "actions": False})
